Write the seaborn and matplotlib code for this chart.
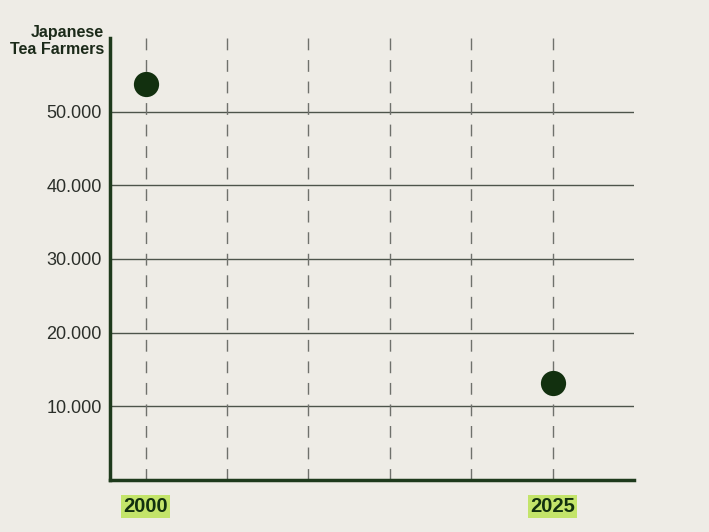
import matplotlib.pyplot as plt
import seaborn as sns
import pandas as pd
from matplotlib.ticker import FuncFormatter

years = [2000, 2025]
farmers = [53800, 13200]
grid_years = [2000, 2005, 2010, 2015, 2020, 2025]
y_ticks = [10000, 20000, 30000, 40000, 50000]

bg = '#eeece6'
dark = '#12300f'

sns.set_theme(style='white')
plt.rcParams['font.family'] = ['Liberation Sans', 'DejaVu Sans']

df = pd.DataFrame({'year': years, 'farmers': farmers})

fig = plt.figure(figsize=(7.09, 5.32), dpi=100, facecolor=bg)
ax = fig.add_axes([0.1551, 0.0977, 0.739, 0.831])
ax.set_facecolor(bg)

for y in y_ticks:
    ax.axhline(y, color='#4d544b', linewidth=1, zorder=1)
for x in grid_years:
    ax.plot([x, x], [60000, 0], color='#6f716c', linewidth=1,
            linestyle=(0, (8.5, 7)), zorder=1)

sns.scatterplot(data=df, x='year', y='farmers', ax=ax, s=330, color=dark,
                edgecolor=dark, linewidth=0, zorder=3)

ax.set_xlim(1997.8, 2030)
ax.set_ylim(0, 60000)
ax.set_yticks(y_ticks)
ax.yaxis.set_major_formatter(FuncFormatter(lambda v, p: f'{int(v):,}'.replace(',', '.')))
ax.tick_params(axis='y', length=0, pad=6, labelsize=13, labelcolor='#2b2f2a')
ax.set_xticks(years)
ax.set_xticklabels([str(y) for y in years], fontsize=14.5, fontweight='bold', color=dark)
ax.tick_params(axis='x', length=0, pad=12)
for t in ax.get_xticklabels():
    t.set_bbox(dict(facecolor='#c3e46a', edgecolor='none', pad=1.5))

for s in ['top', 'right']:
    ax.spines[s].set_visible(False)
for s in ['left', 'bottom']:
    ax.spines[s].set_color('#1e3a1c')
    ax.spines[s].set_linewidth(2.5)

ax.set_xlabel('')
ax.set_ylabel('')
fig.text(104 / 709, 1 - 57 / 532, 'Japanese\nTea Farmers', ha='right', va='bottom',
         fontsize=11.5, fontweight='bold', color='#1b2a19', linespacing=1.15)

fig.savefig('out.png', dpi=100, facecolor=bg)
